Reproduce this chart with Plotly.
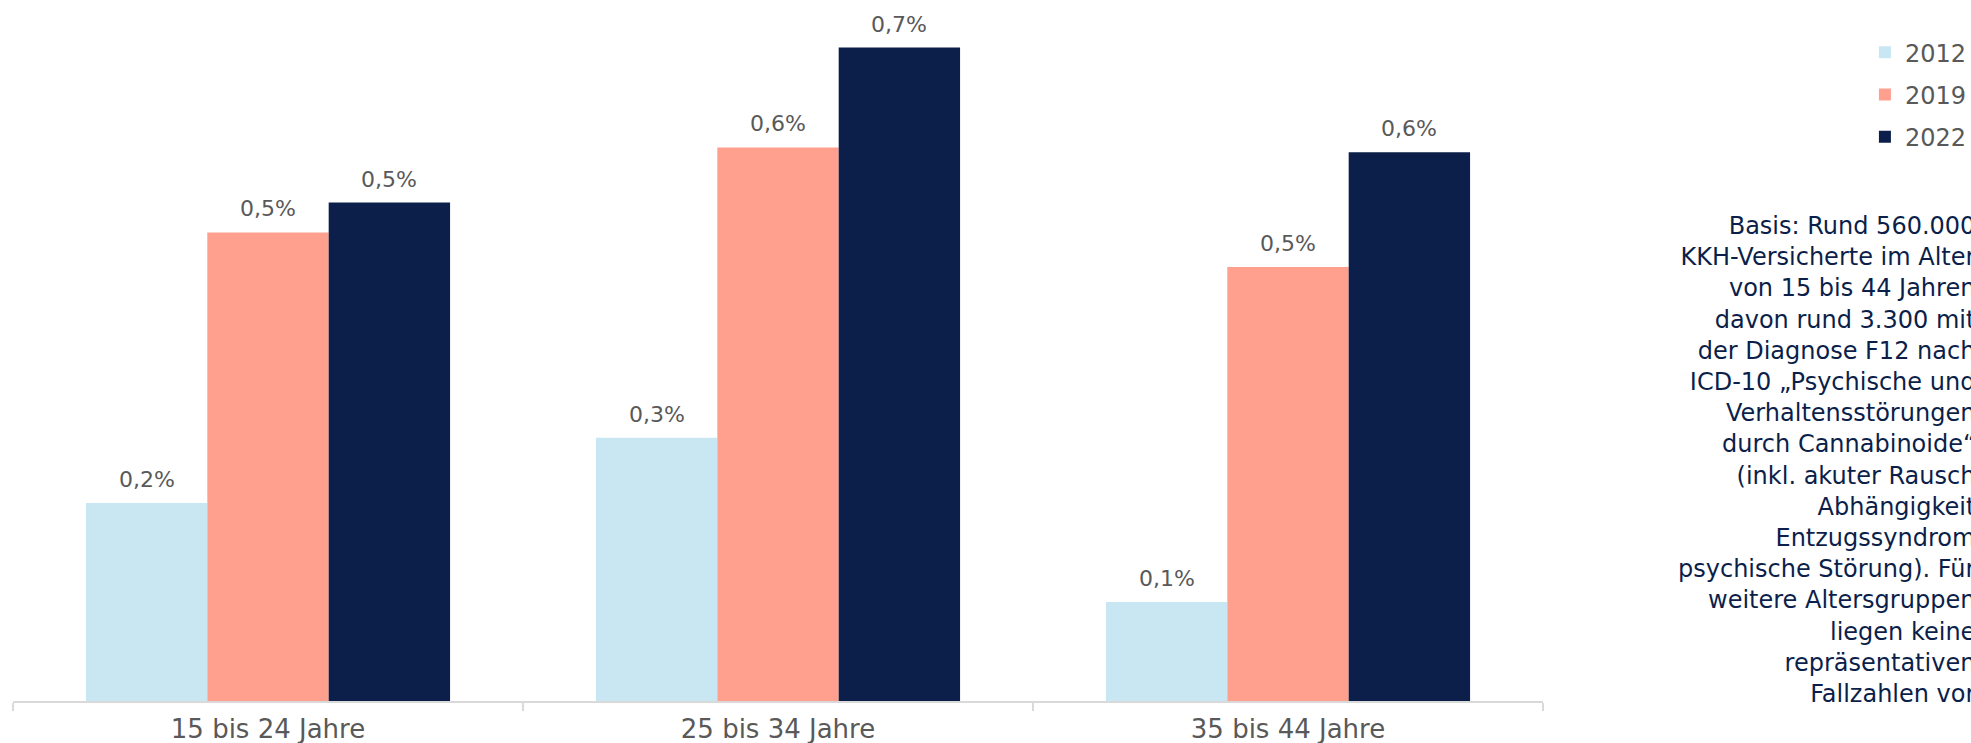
import plotly.graph_objects as go

categories = ["15 bis 24 Jahre", "25 bis 34 Jahre", "35 bis 44 Jahre"]
years = ["2012", "2019", "2022"]
values_2012 = [0.212, 0.282, 0.106]
values_2019 = [0.502, 0.593, 0.465]
values_2022 = [0.534, 0.700, 0.588]
series_values = [values_2012, values_2019, values_2022]
colors = ["#c9e7f2", "#ffa08f", "#0c1f4a"]

note_lines = [
    "Basis: Rund 560.000",
    "KKH-Versicherte im Alter",
    "von 15 bis 44 Jahren",
    "davon rund 3.300 mit",
    "der Diagnose F12 nach",
    "ICD-10 „Psychische und",
    "Verhaltensstörungen",
    "durch Cannabinoide“",
    "(inkl. akuter Rausch",
    "Abhängigkeit",
    "Entzugssyndrom",
    "psychische Störung). Für",
    "weitere Altersgruppen",
    "liegen keine",
    "repräsentativen",
    "Fallzahlen vor",
]

FONT = "DejaVu Sans"
GRAY = "#595959"
bargap = 0.286
bar_w = (1 - bargap) / len(years)

fig = go.Figure()
for k, (yr, vals, col) in enumerate(zip(years, series_values, colors)):
    fig.add_trace(go.Bar(
        x=categories, y=vals, name=yr, marker=dict(color=col, line=dict(width=0)),
        legendgroup=yr, hoverinfo="skip",
    ))
    for i, v in enumerate(vals):
        fig.add_annotation(
            x=i + (k - 1) * bar_w, y=v, xref="x", yref="y",
            text=f"{v:.1f}".replace(".", ",") + "%",
            showarrow=False, yanchor="bottom", xanchor="center", yshift=9,
            font=dict(family=FONT, size=22, color=GRAY),
        )

fig.add_annotation(
    x=1.2843, y=0.344, xref="paper", yref="paper", xanchor="right", yanchor="middle",
    align="right", showarrow=False, text="<br>".join(note_lines),
    font=dict(family=FONT, size=24, color="#0c1f4a"),
)

fig.update_layout(
    width=1971, height=743,
    margin=dict(l=13, r=428, t=0, b=42, autoexpand=False),
    paper_bgcolor="white", plot_bgcolor="white",
    barmode="group", bargap=bargap, bargroupgap=0,
    showlegend=True,
    legend=dict(
        x=1.2104, y=0.957, xanchor="left", yanchor="top",
        font=dict(family=FONT, size=24, color=GRAY),
        tracegroupgap=8, bgcolor="rgba(0,0,0,0)", traceorder="grouped",
    ),
    xaxis=dict(
        type="category", showline=True, linecolor="#d9d9d9", linewidth=2,
        ticks="outside", tickson="boundaries", ticklen=8, tickcolor="#d9d9d9", tickwidth=1.5,
        tickfont=dict(family=FONT, size=26, color=GRAY), showgrid=False, zeroline=False,
        automargin=False, ticklabelstandoff=4,
    ),
    yaxis=dict(visible=False, range=[0, 0.751], showgrid=False, zeroline=False),
    font=dict(family=FONT),
)

fig.write_html(
    "out.html",
    config={"displayModeBar": False},
    post_script="document.body.style.margin='0';document.body.style.overflow='hidden';",
)
